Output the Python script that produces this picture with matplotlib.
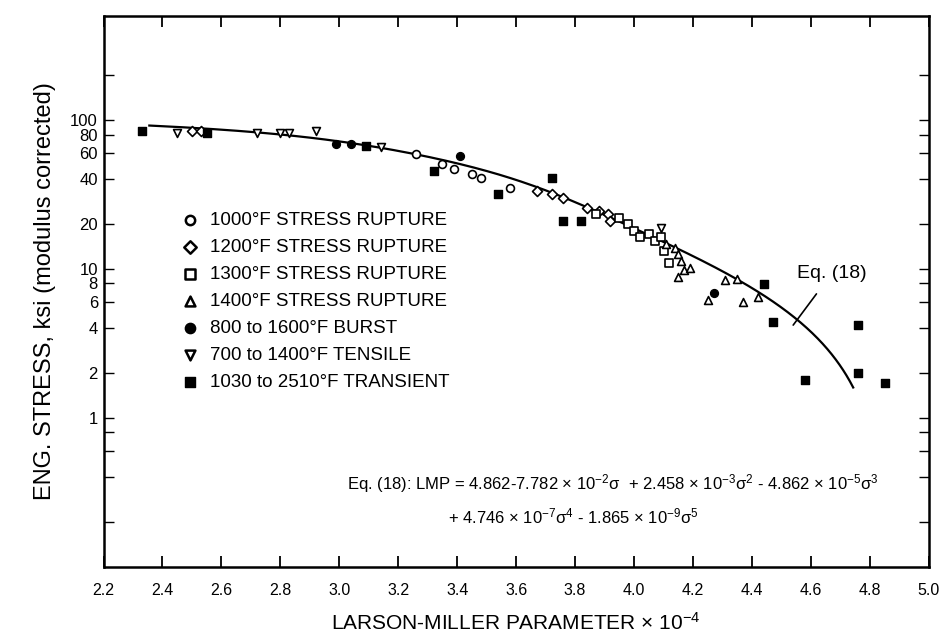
import numpy as np
import matplotlib
matplotlib.use("Agg")
import matplotlib.pyplot as plt

plt.rcParams['font.family'] = ['Liberation Sans', 'DejaVu Sans']
plt.rcParams['mathtext.fontset'] = 'custom'
plt.rcParams['mathtext.rm'] = 'Liberation Sans'
plt.rcParams['mathtext.it'] = 'Liberation Sans:italic'

# ---------------- data (LMP x 10^-4, stress ksi) ----------------
c1000_lmp = [3.26, 3.35, 3.39, 3.45, 3.48, 3.58]
c1000_s = [59, 51, 47, 43.5, 41, 35]

c1200_lmp = [2.50, 2.53, 3.67, 3.72, 3.76, 3.84, 3.88, 3.91, 3.92]
c1200_s = [84, 84, 33.6, 32, 30, 25.8, 24.6, 23.5, 21.1]

c1300_lmp = [3.87, 3.95, 3.98, 4.00, 4.02, 4.05, 4.07, 4.09, 4.10, 4.12]
c1300_s = [23.5, 22.1, 20.2, 18.1, 16.3, 17.3, 15.5, 16.3, 13.3, 10.9]

c1400_lmp = [4.11, 4.14, 4.15, 4.16, 4.17, 4.15, 4.19, 4.25, 4.31, 4.35, 4.37, 4.42]
c1400_s = [14.8, 13.9, 12.7, 11.4, 9.8, 8.8, 10.2, 6.15, 8.4, 8.6, 5.97, 6.45]

burst_lmp = [2.99, 3.04, 3.41, 4.27]
burst_s = [69, 69, 57, 6.86]

tensile_lmp = [2.45, 2.72, 2.80, 2.83, 2.92, 3.14, 4.09]
tensile_s = [82, 82, 82, 82, 84, 66, 19]

trans_lmp = [2.33, 2.55, 3.09, 3.32, 3.54, 3.72, 3.76, 3.82, 4.44, 4.47, 4.76, 4.58, 4.76, 4.85]
trans_s = [85, 82, 67, 45.6, 32, 41, 21.1, 21.1, 7.88, 4.39, 4.19, 1.80, 2.0, 1.71]

# Eq. (18) coefficients (printed on the chart), stress range of the drawn curve
eq18_coef = [4.862, -7.782e-2, 2.458e-3, -4.862e-5, 4.746e-7, -1.865e-9]
eq18_smin, eq18_smax = 1.6, 92

x_ticks = [2.2, 2.4, 2.6, 2.8, 3.0, 3.2, 3.4, 3.6, 3.8, 4.0, 4.2, 4.4, 4.6, 4.8, 5.0]
y_ticks = [1, 2, 4, 6, 8, 10, 20, 40, 60, 80, 100]
y_minor = [0.2, 0.4, 0.6, 0.8, 200]

# ---------------------------------- plot ----------------------------------
fig = plt.figure(figsize=(9.41, 6.44), dpi=100)
ax = fig.add_axes([0.110, 0.120, 0.877, 0.855])

ms = 32
ax.scatter(c1000_lmp, c1000_s, marker='o', s=ms, facecolors='white', edgecolors='black', linewidths=1.2, zorder=3)
ax.scatter(c1200_lmp, c1200_s, marker='D', s=ms * 0.8, facecolors='white', edgecolors='black', linewidths=1.2, zorder=3)
ax.scatter(c1300_lmp, c1300_s, marker='s', s=ms, facecolors='white', edgecolors='black', linewidths=1.2, zorder=3)
ax.scatter(c1400_lmp, c1400_s, marker='^', s=ms, facecolors='white', edgecolors='black', linewidths=1.2, zorder=3)
ax.scatter(burst_lmp, burst_s, marker='o', s=ms, color='black', zorder=3)
ax.scatter(tensile_lmp, tensile_s, marker='v', s=ms, facecolors='white', edgecolors='black', linewidths=1.2, zorder=3)
ax.scatter(trans_lmp, trans_s, marker='s', s=ms, color='black', zorder=3)

# Eq. (18) curve
sig = np.geomspace(eq18_smin, eq18_smax, 300)
lmp = sum(c * sig ** i for i, c in enumerate(eq18_coef))
ax.plot(lmp, sig, color='black', lw=1.6, zorder=2)

ax.annotate('Eq. (18)', xy=(4.54, 4.2), xytext=(4.67, 9.3), fontsize=14,
            ha='center', va='center',
            arrowprops=dict(arrowstyle='-', color='black', lw=1.2, shrinkA=8, shrinkB=0))

# legend (custom handles)
h = []
h.append(ax.scatter([], [], marker='o', s=45, facecolors='white', edgecolors='black', linewidths=1.8))
h.append(ax.scatter([], [], marker='D', s=40, facecolors='white', edgecolors='black', linewidths=1.8))
h.append(ax.scatter([], [], marker='s', s=45, facecolors='white', edgecolors='black', linewidths=1.8))
h.append(ax.scatter([], [], marker='^', s=50, facecolors='white', edgecolors='black', linewidths=1.8))
h.append(ax.scatter([], [], marker='o', s=55, color='black'))
h.append(ax.scatter([], [], marker='v', s=50, facecolors='white', edgecolors='black', linewidths=1.8))
h.append(ax.scatter([], [], marker='s', s=55, color='black'))
labels = ['1000°F STRESS RUPTURE', '1200°F STRESS RUPTURE', '1300°F STRESS RUPTURE',
          '1400°F STRESS RUPTURE', '800 to 1600°F BURST', '700 to 1400°F TENSILE',
          '1030 to 2510°F TRANSIENT']
ax.legend(h, labels, loc='upper left', bbox_to_anchor=(0.08, 0.662), frameon=False,
          fontsize=13.5, labelspacing=0.53, handletextpad=0.45, borderpad=0, handlelength=1.2)

# equation text
ax.text(0.295, 0.151, r'Eq. (18): LMP = 4.862-7.782 × 10$^{-2}$σ  + 2.458 × 10$^{-3}$σ$^{2}$ - 4.862 × 10$^{-5}$σ$^{3}$',
        transform=ax.transAxes, fontsize=12, va='center', ha='left')
ax.text(0.418, 0.091, r'+ 4.746 × 10$^{-7}$σ$^{4}$ - 1.865 × 10$^{-9}$σ$^{5}$',
        transform=ax.transAxes, fontsize=12, va='center', ha='left')

# axes
ax.set_yscale('log')
ax.set_xlim(2.2, 5.0)
ax.set_ylim(0.1, 500)
ax.set_xticks(x_ticks)
ax.set_xticklabels([f'{v:.1f}' for v in x_ticks], fontsize=11.5)
ax.set_yticks(y_ticks)
ax.set_yticklabels([str(v) for v in y_ticks], fontsize=12)
ax.set_yticks(y_minor, minor=True)
ax.yaxis.set_minor_formatter(matplotlib.ticker.NullFormatter())
ax.tick_params(axis='both', which='both', direction='in', top=True, right=True)
ax.tick_params(axis='x', length=8, width=1.3, pad=12)
ax.tick_params(axis='y', which='major', length=7, width=1.0, pad=4)
ax.tick_params(axis='y', which='minor', length=7, width=1.0)
for s in ax.spines.values():
    s.set_linewidth(1.8)

ax.set_xlabel('LARSON-MILLER PARAMETER × 10$^{-4}$', fontsize=15, labelpad=10)
ax.set_ylabel('ENG. STRESS, ksi (modulus corrected)', fontsize=17, labelpad=10)

fig.savefig('out.png', dpi=100)
